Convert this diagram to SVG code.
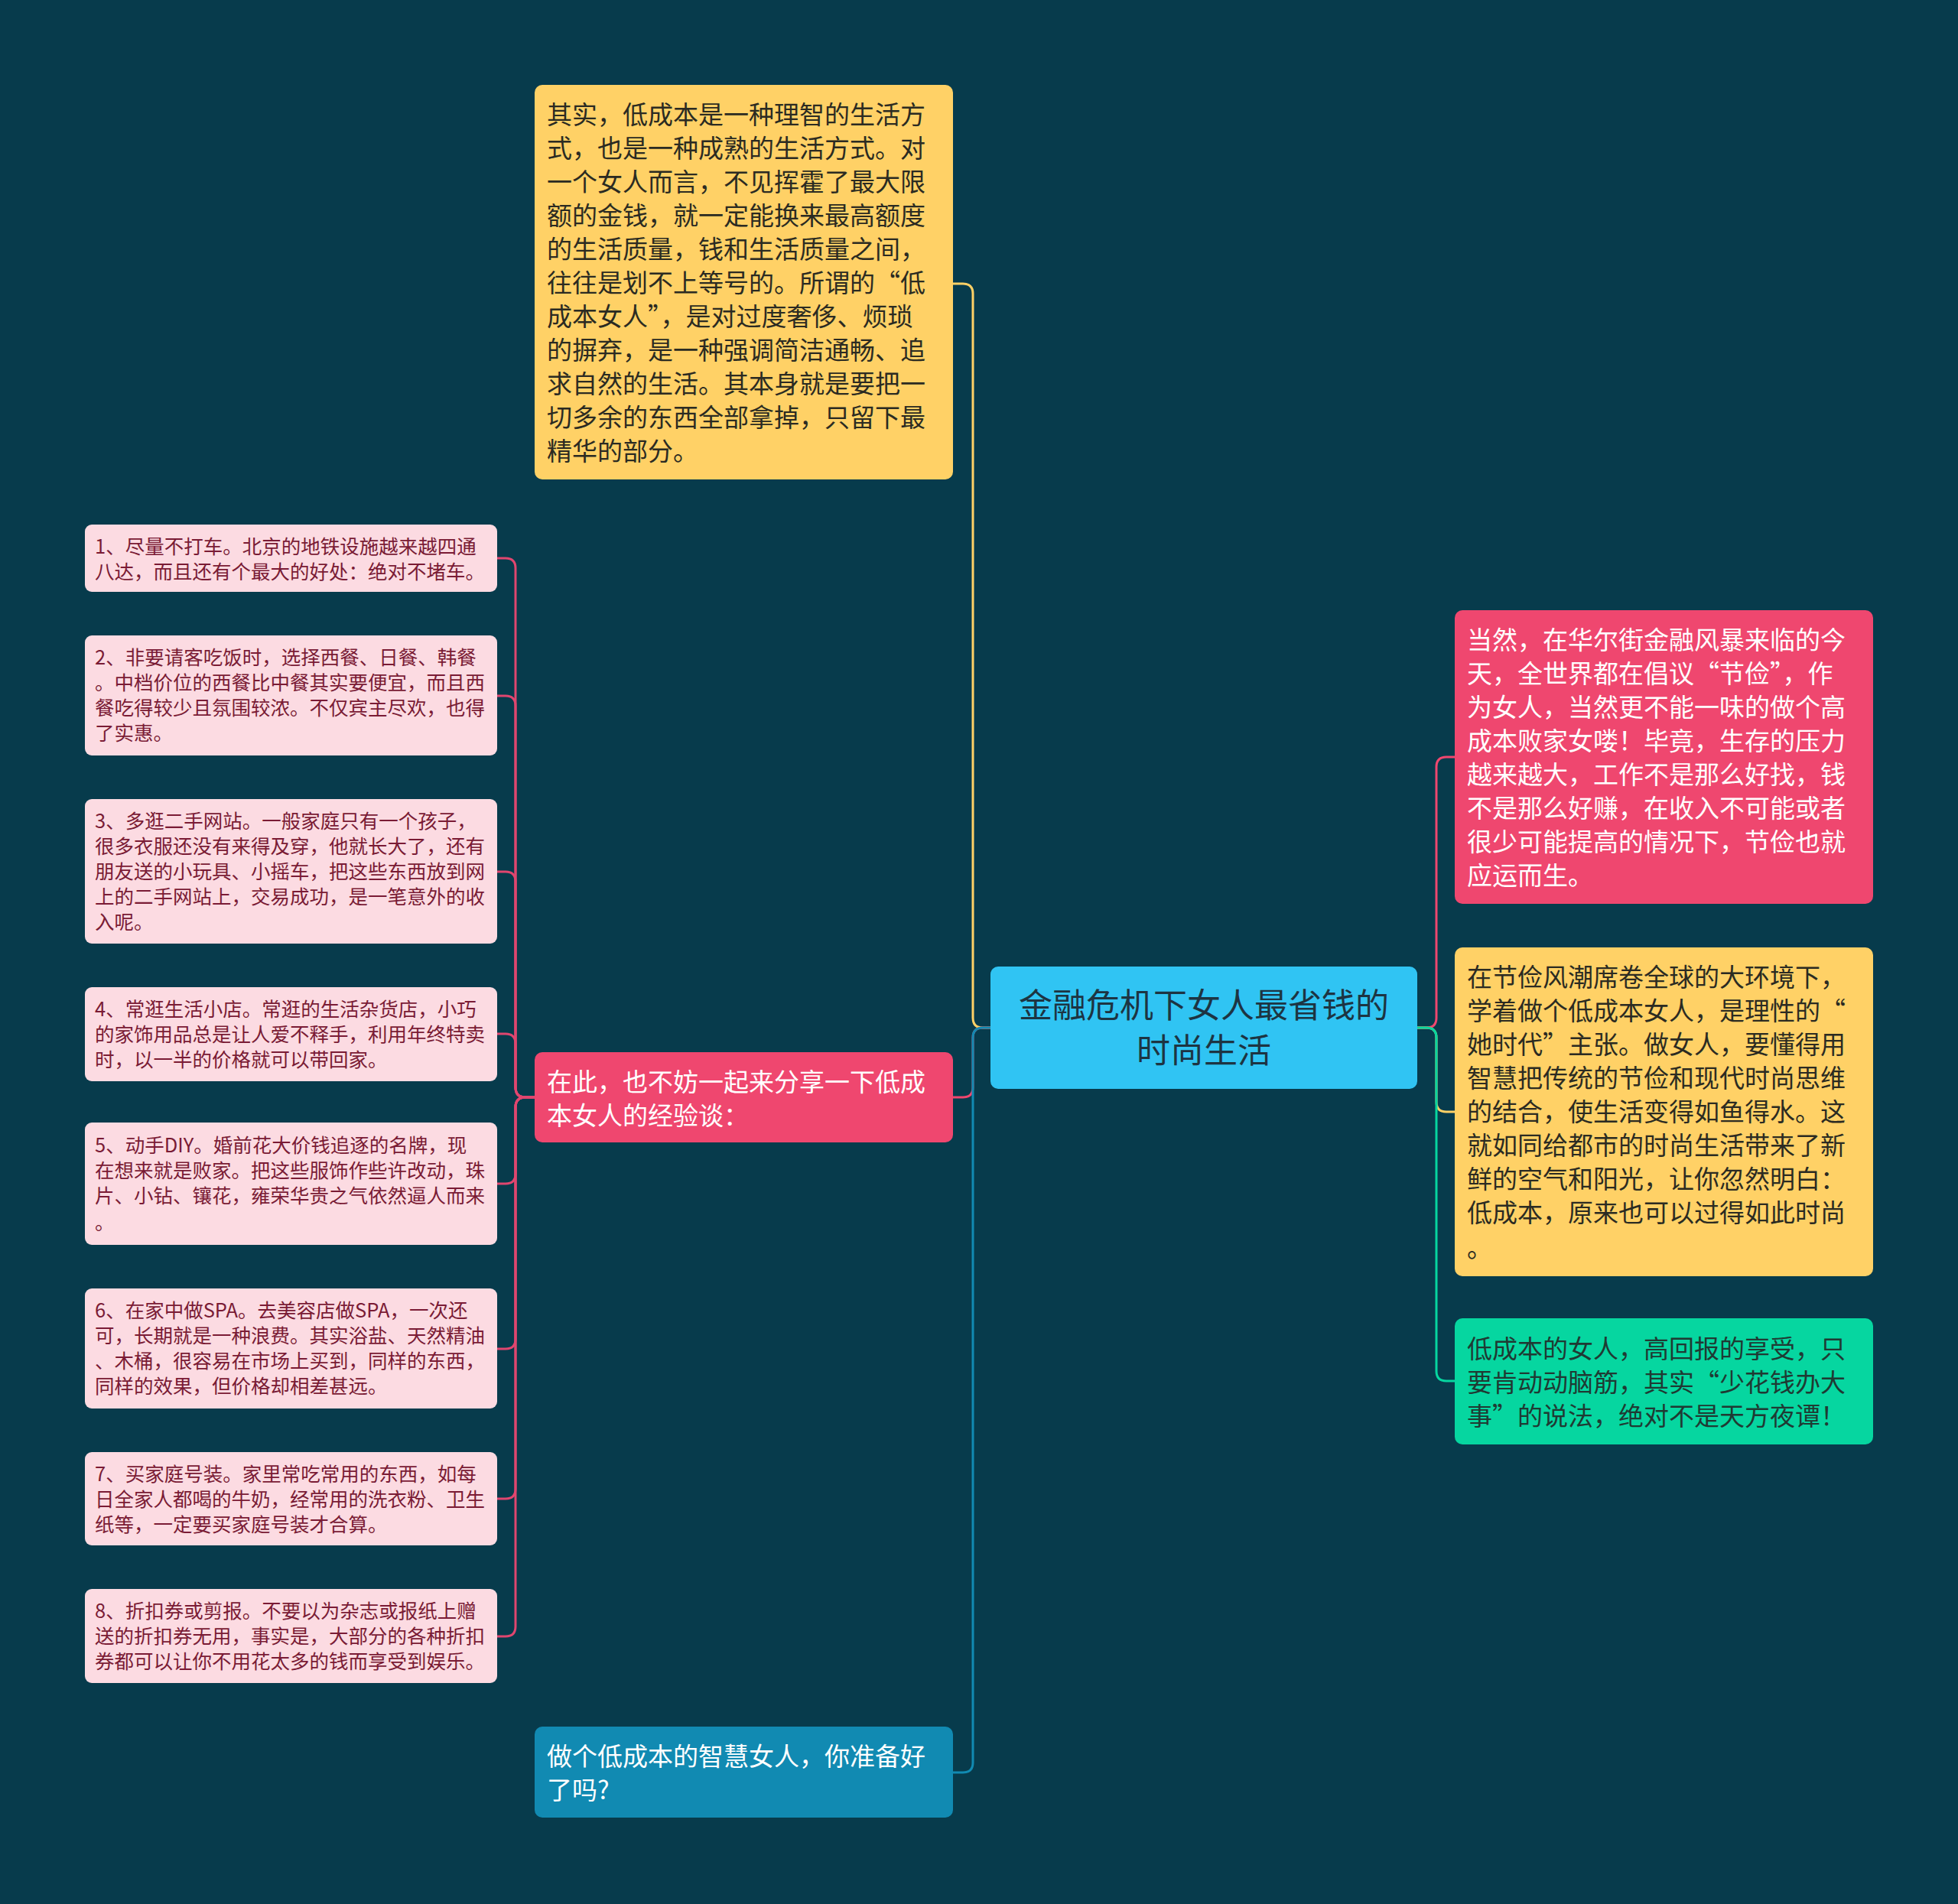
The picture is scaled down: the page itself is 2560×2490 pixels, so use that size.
<svg xmlns="http://www.w3.org/2000/svg" width="2560" height="2490" viewBox="0 0 2560 2490">
<style>
text{font-family:"Noto Sans CJK SC","Noto Sans",sans-serif;}
.t33{font-size:33px;}
.t26{font-size:25.5px;fill:#7a1b35;}
.dark{fill:#2b2b22;}
.light{fill:#ffffff;}
.leaf{fill:#fcdbe2;}
.c{fill:none;stroke-width:3;}
</style>
<rect x="0" y="0" width="2560" height="2490" fill="#073b4c"/>
<g id="connectors">
<path class="c" stroke="#ffd166" d="M1295,1344 H1285 Q1272,1344 1272,1331 V384 Q1272,371 1259,371 H1246"/>
<path class="c" stroke="#ef476f" d="M1295,1344 H1285 Q1272,1344 1272,1357 V1422 Q1272,1435 1259,1435 H1246"/>
<path class="c" stroke="#118ab2" d="M1295,1344 H1285 Q1272,1344 1272,1357 V2305 Q1272,2318 1259,2318 H1246"/>
<path class="c" stroke="#ef476f" d="M1853,1344 H1865 Q1878,1344 1878,1331 V1003 Q1878,990 1891,990 H1902"/>
<path class="c" stroke="#ffd166" d="M1853,1344 H1865 Q1878,1344 1878,1357 V1441 Q1878,1454 1891,1454 H1902"/>
<path class="c" stroke="#06d6a0" d="M1853,1344 H1865 Q1878,1344 1878,1357 V1793 Q1878,1806 1891,1806 H1902"/>
<g stroke="#e0466f">
<path class="c" d="M699,1435 H687 Q674,1435 674,1422 V743 Q674,730 661,730 H650"/>
<path class="c" d="M699,1435 H687 Q674,1435 674,1422 V923 Q674,910 661,910 H650"/>
<path class="c" d="M699,1435 H687 Q674,1435 674,1422 V1153 Q674,1140 661,1140 H650"/>
<path class="c" d="M699,1435 H687 Q674,1435 674,1422 V1365 Q674,1352 661,1352 H650"/>
<path class="c" d="M699,1435 H687 Q674,1435 674,1448 V1535 Q674,1548 661,1548 H650"/>
<path class="c" d="M699,1435 H687 Q674,1435 674,1448 V1751 Q674,1764 661,1764 H650"/>
<path class="c" d="M699,1435 H687 Q674,1435 674,1448 V1947 Q674,1960 661,1960 H650"/>
<path class="c" d="M699,1435 H687 Q674,1435 674,1448 V2127 Q674,2140 661,2140 H650"/>
</g>
</g>
<g id="root">
<rect x="1295" y="1264" width="558" height="160" rx="10" fill="#30c4f3"/>
<text x="1574" y="1331" font-size="44" text-anchor="middle" fill="#1d3442">金融危机下女人最省钱的</text>
<text x="1574" y="1390" font-size="44" text-anchor="middle" fill="#1d3442">时尚生活</text>
</g>
<g id="n-intro">
<rect x="699" y="111" width="547" height="516" rx="10" fill="#ffd166"/>
<text class="t33 dark" x="715" y="161.5"><tspan x="715">其实，低成本是一种理智的生活方</tspan><tspan x="715" dy="44">式，也是一种成熟的生活方式。对</tspan><tspan x="715" dy="44">一个女人而言，不见挥霍了最大限</tspan><tspan x="715" dy="44">额的金钱，就一定能换来最高额度</tspan><tspan x="715" dy="44">的生活质量，钱和生活质量之间，</tspan><tspan x="715" dy="44">往往是划不上等号的。所谓的“低</tspan><tspan x="715" dy="44">成本女人”，是对过度奢侈、烦琐</tspan><tspan x="715" dy="44">的摒弃，是一种强调简洁通畅、追</tspan><tspan x="715" dy="44">求自然的生活。其本身就是要把一</tspan><tspan x="715" dy="44">切多余的东西全部拿掉，只留下最</tspan><tspan x="715" dy="44">精华的部分。</tspan></text>
</g>
<g id="n-share">
<rect x="699" y="1376" width="547" height="118" rx="10" fill="#ef476f"/>
<text class="t33 light" x="715" y="1426.5"><tspan x="715">在此，也不妨一起来分享一下低成</tspan><tspan x="715" dy="44">本女人的经验谈：</tspan></text>
</g>
<g id="n-ready">
<rect x="699" y="2258" width="547" height="119" rx="10" fill="#118ab2"/>
<text class="t33 light" x="715" y="2308.5"><tspan x="715">做个低成本的智慧女人，你准备好</tspan><tspan x="715" dy="44">了吗?</tspan></text>
</g>
<g id="leaf1">
<rect class="leaf" x="111" y="686" width="539" height="88" rx="9"/>
<text class="t26" x="124" y="724"><tspan x="124">1、尽量不打车。北京的地铁设施越来越四通</tspan><tspan x="124" dy="33">八达，而且还有个最大的好处：绝对不堵车。</tspan></text>
</g>
<g id="leaf2">
<rect class="leaf" x="111" y="831" width="539" height="157" rx="9"/>
<text class="t26" x="124" y="869"><tspan x="124">2、非要请客吃饭时，选择西餐、日餐、韩餐</tspan><tspan x="124" dy="33">。中档价位的西餐比中餐其实要便宜，而且西</tspan><tspan x="124" dy="33">餐吃得较少且氛围较浓。不仅宾主尽欢，也得</tspan><tspan x="124" dy="33">了实惠。</tspan></text>
</g>
<g id="leaf3">
<rect class="leaf" x="111" y="1045" width="539" height="189" rx="9"/>
<text class="t26" x="124" y="1083"><tspan x="124">3、多逛二手网站。一般家庭只有一个孩子，</tspan><tspan x="124" dy="33">很多衣服还没有来得及穿，他就长大了，还有</tspan><tspan x="124" dy="33">朋友送的小玩具、小摇车，把这些东西放到网</tspan><tspan x="124" dy="33">上的二手网站上，交易成功，是一笔意外的收</tspan><tspan x="124" dy="33">入呢。</tspan></text>
</g>
<g id="leaf4">
<rect class="leaf" x="111" y="1291" width="539" height="123" rx="9"/>
<text class="t26" x="124" y="1329"><tspan x="124">4、常逛生活小店。常逛的生活杂货店，小巧</tspan><tspan x="124" dy="33">的家饰用品总是让人爱不释手，利用年终特卖</tspan><tspan x="124" dy="33">时，以一半的价格就可以带回家。</tspan></text>
</g>
<g id="leaf5">
<rect class="leaf" x="111" y="1468" width="539" height="160" rx="9"/>
<text class="t26" x="124" y="1507"><tspan x="124">5、动手DIY。婚前花大价钱追逐的名牌，现</tspan><tspan x="124" dy="33">在想来就是败家。把这些服饰作些许改动，珠</tspan><tspan x="124" dy="33">片、小钻、镶花，雍荣华贵之气依然逼人而来</tspan><tspan x="124" dy="35">。</tspan></text>
</g>
<g id="leaf6">
<rect class="leaf" x="111" y="1685" width="539" height="157" rx="9"/>
<text class="t26" x="124" y="1723"><tspan x="124">6、在家中做SPA。去美容店做SPA，一次还</tspan><tspan x="124" dy="33">可，长期就是一种浪费。其实浴盐、天然精油</tspan><tspan x="124" dy="33">、木桶，很容易在市场上买到，同样的东西，</tspan><tspan x="124" dy="33">同样的效果，但价格却相差甚远。</tspan></text>
</g>
<g id="leaf7">
<rect class="leaf" x="111" y="1899" width="539" height="122" rx="9"/>
<text class="t26" x="124" y="1937"><tspan x="124">7、买家庭号装。家里常吃常用的东西，如每</tspan><tspan x="124" dy="33">日全家人都喝的牛奶，经常用的洗衣粉、卫生</tspan><tspan x="124" dy="33">纸等，一定要买家庭号装才合算。</tspan></text>
</g>
<g id="leaf8">
<rect class="leaf" x="111" y="2078" width="539" height="123" rx="9"/>
<text class="t26" x="124" y="2116"><tspan x="124">8、折扣券或剪报。不要以为杂志或报纸上赠</tspan><tspan x="124" dy="33">送的折扣券无用，事实是，大部分的各种折扣</tspan><tspan x="124" dy="33">券都可以让你不用花太多的钱而享受到娱乐。</tspan></text>
</g>
<g id="n-crisis">
<rect x="1902" y="798" width="547" height="384" rx="10" fill="#ef476f"/>
<text class="t33 light" x="1918" y="848.5"><tspan x="1918">当然，在华尔街金融风暴来临的今</tspan><tspan x="1918" dy="44">天，全世界都在倡议“节俭”，作</tspan><tspan x="1918" dy="44">为女人，当然更不能一味的做个高</tspan><tspan x="1918" dy="44">成本败家女喽！毕竟，生存的压力</tspan><tspan x="1918" dy="44">越来越大，工作不是那么好找，钱</tspan><tspan x="1918" dy="44">不是那么好赚，在收入不可能或者</tspan><tspan x="1918" dy="44">很少可能提高的情况下，节俭也就</tspan><tspan x="1918" dy="44">应运而生。</tspan></text>
</g>
<g id="n-era">
<rect x="1902" y="1239" width="547" height="430" rx="10" fill="#ffd166"/>
<text class="t33 dark" x="1918" y="1289.5"><tspan x="1918">在节俭风潮席卷全球的大环境下，</tspan><tspan x="1918" dy="44">学着做个低成本女人，是理性的“</tspan><tspan x="1918" dy="44">她时代”主张。做女人，要懂得用</tspan><tspan x="1918" dy="44">智慧把传统的节俭和现代时尚思维</tspan><tspan x="1918" dy="44">的结合，使生活变得如鱼得水。这</tspan><tspan x="1918" dy="44">就如同给都市的时尚生活带来了新</tspan><tspan x="1918" dy="44">鲜的空气和阳光，让你忽然明白：</tspan><tspan x="1918" dy="44">低成本，原来也可以过得如此时尚</tspan><tspan x="1918" dy="46">。</tspan></text>
</g>
<g id="n-reward">
<rect x="1902" y="1724" width="547" height="165" rx="10" fill="#06d6a0"/>
<text class="t33" fill="#1f3a33" x="1918" y="1775.5"><tspan x="1918">低成本的女人，高回报的享受，只</tspan><tspan x="1918" dy="44">要肯动动脑筋，其实“少花钱办大</tspan><tspan x="1918" dy="44">事”的说法，绝对不是天方夜谭！</tspan></text>
</g>
</svg>
